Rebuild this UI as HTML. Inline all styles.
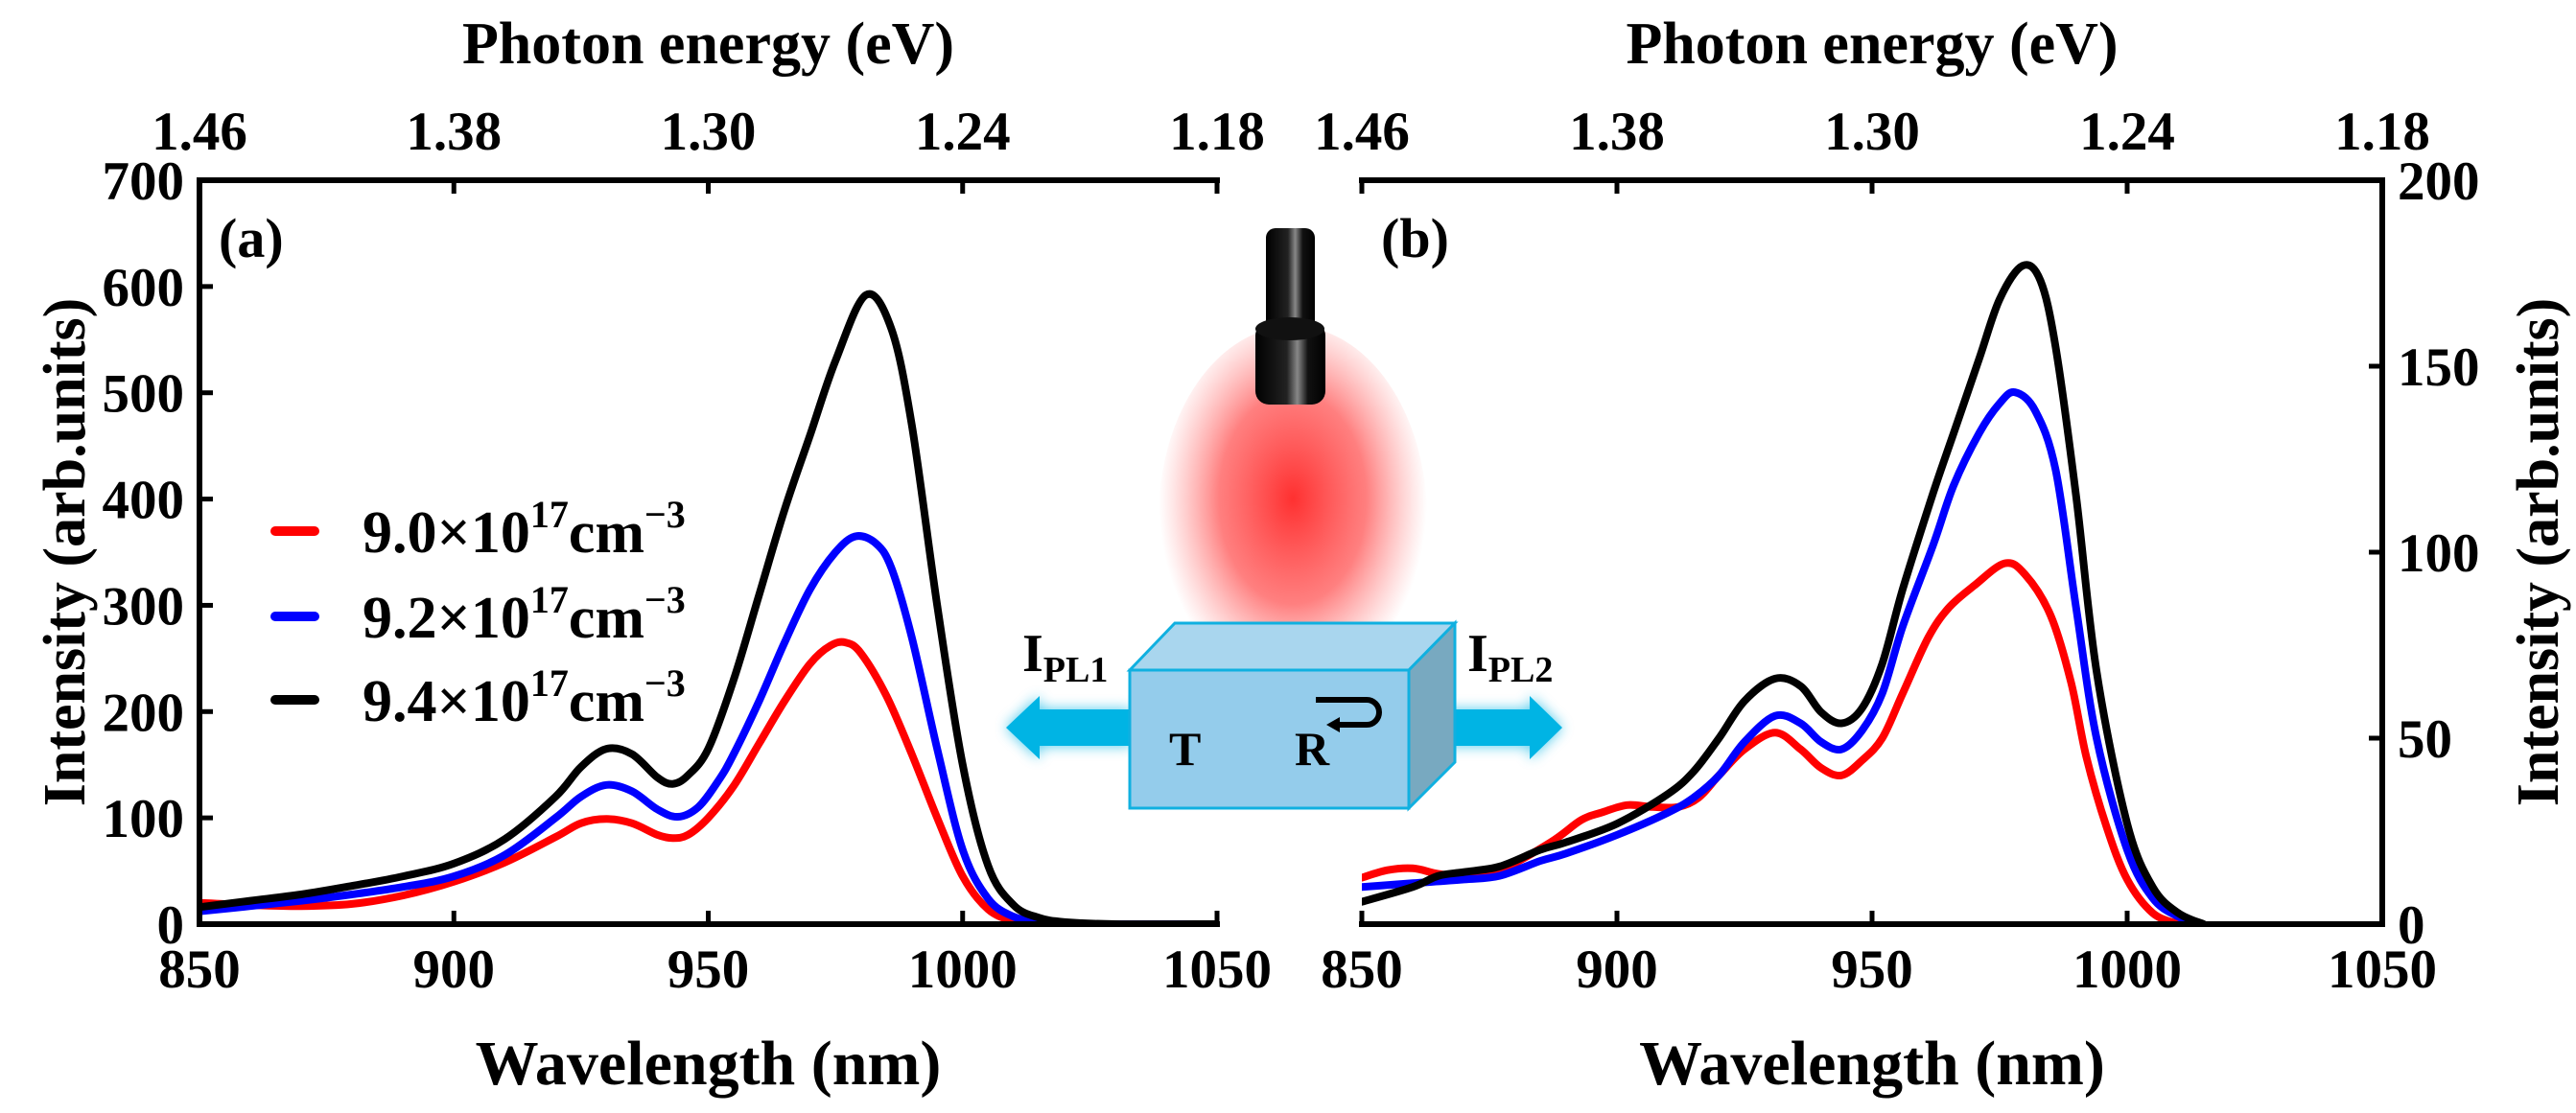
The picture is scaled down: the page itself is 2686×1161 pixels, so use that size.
<!DOCTYPE html>
<html><head><meta charset="utf-8"><style>
html,body{margin:0;padding:0;background:#fff;}
svg{display:block;font-family:"Liberation Serif",serif;font-weight:bold;}
</style></head><body>
<svg id="fig" width="2686" height="1161" viewBox="0 0 2686 1161">
<defs>
<radialGradient id="glow" cx="0.5" cy="0.45" r="0.5">
<stop offset="0" stop-color="#ff3030" stop-opacity="1"/>
<stop offset="0.55" stop-color="#ff5555" stop-opacity="0.75"/>
<stop offset="1" stop-color="#ff8080" stop-opacity="0"/>
</radialGradient>
<linearGradient id="cyl" x1="0" x2="1" y1="0" y2="0">
<stop offset="0" stop-color="#000"/><stop offset="0.45" stop-color="#222"/><stop offset="0.6" stop-color="#888"/><stop offset="0.75" stop-color="#111"/><stop offset="1" stop-color="#000"/>
</linearGradient>
<filter id="blur" x="-30%" y="-30%" width="160%" height="160%"><feGaussianBlur stdDeviation="7"/></filter>
</defs>
<g id="plots"></g>
<g id="illustration">
<ellipse cx="1348" cy="540" rx="140" ry="200" fill="url(#glow)"/>
<rect x="1320" y="238" width="51" height="110" rx="10" fill="url(#cyl)"/>
<rect x="1309" y="336" width="73" height="86" rx="14" fill="url(#cyl)"/>
<ellipse cx="1345" cy="343" rx="36" ry="12" fill="#111"/>
<g>
<polygon points="1180,740 1084,740 1084,726 1049,759 1084,792 1084,778 1180,778" fill="#00b4e4" filter="url(#blur)" opacity="0.7"/>
<polygon points="1180,740 1084,740 1084,726 1049,759 1084,792 1084,778 1180,778" fill="#00b4e4"/>
</g>
<g>
<polygon points="1491,740 1595,740 1595,726 1629,759 1595,792 1595,778 1491,778" fill="#00b4e4" filter="url(#blur)" opacity="0.7"/>
<polygon points="1491,740 1595,740 1595,726 1629,759 1595,792 1595,778 1491,778" fill="#00b4e4"/>
</g>
<polygon points="1178,699 1225,650 1517,650 1469,699" fill="#a9d6ee" stroke="#10b0e0" stroke-width="3"/>
<polygon points="1469,699 1517,650 1517,795 1469,843" fill="#78a9c0" stroke="#10b0e0" stroke-width="3"/>
<rect x="1178" y="699" width="291" height="144" fill="#94cceb" stroke="#10b0e0" stroke-width="3"/>
<text x="1219" y="798" font-size="50">T</text>
<text x="1350" y="798" font-size="50">R</text>
<path d="M1372,730 L1425,730 A13,13 0 0 1 1425,756 L1395,756" fill="none" stroke="#000" stroke-width="6"/>
<polygon points="1383,756 1397,748 1397,764" fill="#000"/>
<text x="1066" y="700" font-size="56">I<tspan font-size="38" dy="11">PL1</tspan></text>
<text x="1530" y="700" font-size="56">I<tspan font-size="38" dy="11">PL2</tspan></text>
</g>
</svg>
<script>
var wlTicks = [850, 900, 950, 1000, 1050];
var energyLabels = ["1.46", "1.38", "1.30", "1.24", "1.18"];
var yTicksA = [0, 100, 200, 300, 400, 500, 600, 700];
var yTicksB = [0, 50, 100, 150, 200];
var legendLabels = ["9.0", "9.2", "9.4"];
var colors = ["#ff0000", "#0000ff", "#000000"];

var aRedWl = [850,860,870,880,890,900,910,920,925,930,935,940,943,946,950,955,960,965,970,974,977,980,985,990,995,1000,1005,1010,1015,1050];
var aRedI  = [20,18,17,19,27,40,58,82,95,99,95,84,81,84,100,130,170,210,245,262,265,255,215,160,100,45,14,3,0,0];
var aBlueWl = [850,860,870,880,890,900,910,920,925,930,935,940,944,948,952,955,960,965,970,975,979,983,986,990,995,1000,1005,1010,1015,1020,1050];
var aBlueI  = [12,17,22,28,35,45,65,100,120,131,125,108,101,110,135,160,210,265,315,350,365,358,335,270,165,70,24,7,2,0,0];
var aBlackWl = [850,860,870,880,890,900,910,920,925,930,935,940,943,946,950,955,960,965,970,975,981,986,990,995,1000,1005,1010,1015,1020,1030,1050];
var aBlackI  = [16,22,28,36,45,57,80,120,148,165,160,138,132,140,165,230,310,390,460,530,592,560,470,300,150,55,18,6,2,0,0];

var bRedWl = [850,855,860,865,870,877,887,893,897,902,907,912,916,920,925,931,936,940,944,948,952,956,961,965,970,976,980,985,989,992,996,1000,1005,1010];
var bRedI  = [12.5,14.5,15,13.5,13,14.5,22,28,30,32,31.5,31.5,34,40,47,51.5,47,42,40,44,50,62,77,85,91,97,94,83,65,45,26,12,3,0];
var bBlueWl = [850,860,870,877,885,890,900,910,915,920,925,931,936,940,944,948,952,956,962,966,971,975,978,982,986,990,994,1000,1005,1010,1014];
var bBlueI  = [10,11,12,13,17,19,24,30,34,40,49,56,54,49,47,52,62,80,102,118,132,140,143,138,122,85,50,20,7,2,0];
var bBlackWl = [850,860,865,870,877,885,890,900,910,915,920,925,931,936,940,944,948,952,956,962,966,971,975,979.5,983,986,990,994,1000,1005,1010,1015];
var bBlackI  = [6,10,13,14,15.5,20,22,27,35,41,50,60,66,64,57,54,58,70,90,116,132,152,168,177,173,155,115,68,27,10,3,0];

var NS = "http://www.w3.org/2000/svg";
var root = document.getElementById("plots");
function mk(tag, attrs, parent) {
  var e = document.createElementNS(NS, tag);
  for (var k in attrs) e.setAttribute(k, attrs[k]);
  (parent || root).appendChild(e);
  return e;
}
function smoothPath(pts) {
  var d = "M" + pts[0][0].toFixed(1) + "," + pts[0][1].toFixed(1);
  for (var i = 0; i < pts.length - 1; i++) {
    var p0 = pts[Math.max(0, i - 1)], p1 = pts[i], p2 = pts[i + 1], p3 = pts[Math.min(pts.length - 1, i + 2)];
    var c1x = p1[0] + (p2[0] - p0[0]) / 6, c1y = p1[1] + (p2[1] - p0[1]) / 6;
    var c2x = p2[0] - (p3[0] - p1[0]) / 6, c2y = p2[1] - (p3[1] - p1[1]) / 6;
    d += " C" + c1x.toFixed(1) + "," + c1y.toFixed(1) + " " + c2x.toFixed(1) + "," + c2y.toFixed(1) + " " + p2[0].toFixed(1) + "," + p2[1].toFixed(1);
  }
  return d;
}

function panel(opts) {
  var L = opts.left, R = opts.right, T = 188, B = 964;
  var xs = function (w) { return L + (w - 850) / 200 * (R - L); };
  var ys = function (v) { return B - v / opts.ymax * (B - T); };
  var g = mk("g", {});
  
  
  var clip = mk("clipPath", { id: "clip-" + opts.name }, g);
  mk("rect", { x: L, y: T, width: R - L, height: B - T }, clip);
  var series = [[opts.redWl, opts.redI], [opts.blueWl, opts.blueI], [opts.blackWl, opts.blackI]];
  var snames = ["series-9-0", "series-9-2", "series-9-4"];
  for (var s = 0; s < 3; s++) {
    var pts = [];
    for (var i = 0; i < series[s][0].length; i++) pts.push([xs(series[s][0][i]), ys(series[s][1][i])]);
    var p = mk("path", { d: smoothPath(pts), fill: "none", stroke: colors[s], "stroke-width": 8, "stroke-linejoin": "round", "stroke-linecap": "round", "clip-path": "url(#clip-" + opts.name + ")" }, g);
    
    
  }
  var vx = opts.rightAxis ? R : L;
  var ax = mk("path", { d: "M" + (L - 3) + "," + T + " H" + (R + 3) + " M" + (L - 3) + "," + B + " H" + (R + 3) + " M" + vx + "," + (T - 3) + " V" + (B + 3), fill: "none", stroke: "#000", "stroke-width": 6 }, g);
  
  
  for (var i = 0; i < wlTicks.length; i++) {
    var x = xs(wlTicks[i]);
    mk("line", { x1: x, x2: x, y1: B, y2: B - 14, stroke: "#000", "stroke-width": 5 }, g);
    mk("line", { x1: x, x2: x, y1: T, y2: T + 14, stroke: "#000", "stroke-width": 5 }, g);
    var t = mk("text", { x: x, y: 1030, "font-size": 57, "text-anchor": "middle" }, g);
    t.textContent = wlTicks[i];
    
    
    var e = mk("text", { x: x, y: 156, "font-size": 57, "text-anchor": "middle" }, g);
    e.textContent = energyLabels[i];
    
    
  }
  var yt = opts.yticks;
  for (var j = 0; j < yt.length; j++) {
    var y = ys(yt[j]);
    var lt;
    if (opts.rightAxis) {
      mk("line", { x1: R, x2: R - 14, y1: y, y2: y, stroke: "#000", "stroke-width": 5 }, g);
      lt = mk("text", { x: R + 16, y: y + 20, "font-size": 57, "text-anchor": "start" }, g);
    } else {
      mk("line", { x1: L, x2: L + 14, y1: y, y2: y, stroke: "#000", "stroke-width": 5 }, g);
      lt = mk("text", { x: L - 16, y: y + 20, "font-size": 57, "text-anchor": "end" }, g);
    }
    lt.textContent = yt[j];
    
    
  }
  var xt = mk("text", { x: (L + R) / 2, y: 1131, "font-size": 66, "text-anchor": "middle" }, g);
  xt.textContent = "Wavelength (nm)";
  
  
  var tt = mk("text", { x: (L + R) / 2, y: 66, "font-size": 62, "text-anchor": "middle" }, g);
  tt.textContent = "Photon energy (eV)";
  
  
  var cx = opts.rightAxis ? 2647 : 68;
  var yl = mk("text", { x: cx, y: 576, "font-size": 62, "text-anchor": "middle", transform: "rotate(-90 " + cx + " 576)", dy: 20 }, g);
  yl.textContent = "Intensity (arb.units)";
  
  
  var pl = mk("text", { x: L + 20, y: 268, "font-size": 58 }, g);
  pl.textContent = opts.label;
  
  
  return g;
}

panel({ name: "panel-a", left: 208, right: 1269, ymax: 700, yticks: yTicksA, label: "(a)", rightAxis: false,
  redWl: aRedWl, redI: aRedI, blueWl: aBlueWl, blueI: aBlueI, blackWl: aBlackWl, blackI: aBlackI });
panel({ name: "panel-b", left: 1420, right: 2484, ymax: 200, yticks: yTicksB, label: "(b)", rightAxis: true,
  redWl: bRedWl, redI: bRedI, blueWl: bBlueWl, blueI: bBlueI, blackWl: bBlackWl, blackI: bBlackI });

var lg = mk("g", {});


var legY = [554, 643, 730];
for (var k = 0; k < legendLabels.length; k++) {
  var ln = mk("line", { x1: 287, x2: 328, y1: legY[k], y2: legY[k], stroke: colors[k], "stroke-width": 10, "stroke-linecap": "round" }, lg);
  
  
  var tx = mk("text", { x: 378, y: legY[k] + 22, "font-size": 62 }, lg);
  
  
  var a = mk("tspan", {}, tx); a.textContent = legendLabels[k] + "\u00d710";
  var b = mk("tspan", { dy: -26, "font-size": 40 }, tx); b.textContent = "17";
  var c = mk("tspan", { dy: 26 }, tx); c.textContent = "cm";
  var d = mk("tspan", { dy: -26, "font-size": 40 }, tx); d.textContent = "\u22123";
}
</script>
</body></html>
